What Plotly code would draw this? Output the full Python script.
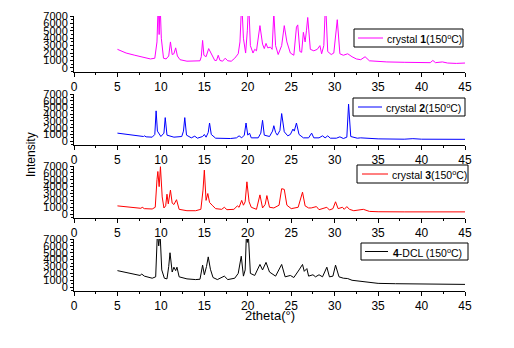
import plotly.graph_objects as go

# ---- data (2theta, intensity) ----
crystal1 = [(5,2500),(6,2000),(7,1700),(8,1400),(8.8,1200),(9.3,1300),(9.55,3500),(9.7,9000),(9.8,4500),(9.9,9000),
            (10.05,4000),(10.3,1300),(10.6,1200),(10.9,1600),(11.1,3500),(11.3,1800),(11.5,1900),(11.7,2700),(11.9,1600),
            (12.2,1100),(13,900),(14,900),(14.5,950),(14.65,1500),(14.8,3700),(14.95,1700),(15.2,1500),(15.5,2600),
            (15.8,1900),(16.2,1000),(16.4,1000),(16.6,1700),(16.8,1000),(17.1,900),(17.4,1300),(17.7,950),(18.1,900),
            (18.5,1300),(18.9,1900),(19.1,3500),(19.3,9000),(19.5,4000),(19.75,2000),(19.95,5000),(20.1,9000),(20.3,3000),
            (20.6,2000),(20.8,2500),(21.0,2300),(21.4,5700),(21.7,3200),(21.9,2600),(22.1,3300),(22.3,2700),(22.6,2800),
            (22.8,2500),(23.0,7500),(23.2,3000),(23.5,1800),(23.9,3000),(24.2,5700),(24.5,3500),(24.9,2000),(25.3,1700),
            (25.6,5500),(25.75,5800),(26.0,2200),(26.2,2100),(26.4,4800),(26.6,3500),(26.75,5000),(26.9,6800),(27.2,2500),
            (27.6,2300),(28.0,2500),(28.3,3000),(28.5,1900),(28.75,3000),(28.95,9000),(29.2,2200),(29.6,1800),(29.9,2000),
            (30.3,6500),(30.6,1900),(31.0,1700),(31.5,1900),(32.0,1500),(32.5,1200),(33.0,1100),(33.5,1500),(34.0,950),
            (35,850),(36,800),(38,750),(40,650),(41,700),(41.3,1000),(41.6,700),(42.4,800),(43,650),(44,600),(45,650)]

crystal2 = [(5,1200),(6,1000),(7,850),(8,700),(8.1,800),(8.3,650),(9.0,600),(9.3,1000),(9.45,4500),(9.6,1500),
            (10.0,700),(10.35,1200),(10.5,3500),(10.7,900),(11.5,600),(12.4,700),(12.6,1500),(12.75,3500),(12.95,900),
            (13.5,500),(13.9,750),(14.2,450),(14.8,700),(15.0,1000),(15.2,600),(15.45,1300),(15.6,2700),(15.8,1000),
            (16.3,450),(17,400),(18,400),(18.7,500),(19.0,800),(19.3,500),(19.6,900),(19.8,2700),(20.0,900),(20.2,1200),
            (20.4,500),(21.2,500),(21.5,1200),(21.7,3100),(21.9,900),(22.5,700),(22.85,1500),(23.0,2300),(23.2,1300),
            (23.4,900),(23.7,1600),(23.9,4100),(24.2,1400),(24.6,800),(24.9,1000),(25.2,1800),(25.35,1500),(25.6,2700),
            (25.9,1000),(26.4,500),(27.0,500),(27.35,1200),(27.6,500),(28.2,500),(28.6,800),(28.9,500),(29.2,800),
            (29.5,450),(30.2,450),(30.6,650),(31.0,400),(31.4,600),(31.6,5500),(31.85,700),(32.2,600),(32.6,450),
            (33.0,500),(34,400),(35,350),(38,300),(39,380),(40,300),(42,280),(45,280)]

crystal3 = [(5,1200),(6,1050),(7,900),(7.7,850),(7.85,1000),(8.1,800),(9,750),(9.35,1000),(9.55,5000),(9.65,6200),
            (9.8,4000),(9.95,6900),(10.15,2500),(10.35,900),(10.55,1200),(10.7,2900),(10.85,1500),(11.1,3500),(11.3,1600),
            (11.5,1400),(11.8,2100),(12.1,700),(13,500),(14,500),(14.6,700),(14.85,3500),(15.0,6400),(15.2,2000),
            (15.4,3000),(15.6,1700),(15.9,1300),(16.3,800),(17.0,700),(17.3,1000),(17.6,650),(18.4,700),(18.8,1200),
            (19.0,1000),(19.3,2000),(19.5,1300),(19.7,1800),(19.9,4700),(20.15,1800),(20.4,1000),(21.0,700),(21.4,2800),
            (21.7,900),(22.0,1400),(22.2,2700),(22.5,1000),(23.0,900),(23.6,1300),(23.9,3700),(24.2,3600),(24.5,1300),
            (25.0,800),(25.8,1000),(26.3,3200),(26.6,1200),(27.0,900),(27.3,900),(27.9,1100),(28.2,650),(28.6,800),
            (29.1,1000),(29.4,600),(29.8,800),(30.1,1800),(30.4,800),(30.9,1000),(31.1,700),(31.4,1100),(31.7,700),
            (32.2,500),(33.3,700),(34.0,400),(35,350),(38,330),(42,320),(45,330)]

dcl4 = [(5,2400),(6,2100),(7,1800),(7.6,1700),(7.8,1900),(8.1,1600),(9.0,1300),(9.4,1500),(9.6,8000),(9.75,6000),
        (9.9,8000),(10.1,2500),(10.4,1300),(10.7,1200),(10.9,3000),(11.05,5000),(11.3,2200),(11.5,2900),(11.7,2400),
        (11.85,2900),(12.1,1500),(13,1200),(14,1100),(14.5,1150),(14.8,3200),(15.0,1800),(15.25,3000),(15.45,4400),
        (15.7,2600),(16.0,1400),(16.5,1100),(17.3,1600),(17.7,1100),(18.5,1300),(18.9,2000),(19.25,4500),(19.5,1600),
        (19.7,2500),(19.85,8000),(19.95,6500),(20.05,8000),(20.3,2000),(20.8,1700),(21.4,3300),(21.7,2500),(22.1,3600),
        (22.5,2200),(23.2,1600),(23.9,3300),(24.3,1500),(24.9,1700),(25.3,1400),(25.9,2500),(26.3,3300),(26.5,2300),
        (26.8,2700),(27.0,1600),(27.5,1800),(27.8,1500),(28.2,1800),(28.6,1500),(29.1,2900),(29.4,1500),(29.8,1600),
        (30.1,3200),(30.5,1500),(31.0,1300),(31.5,1250),(32,1000),(33,850),(34,700),(35,550),(37,500),(40,450),
        (42,420),(45,400)]

series_names = ["crystal <b>1</b>(150<sup>o</sup>C)", "crystal <b>2</b>(150<sup>o</sup>C)",
                "crystal <b>3</b>(150<sup>o</sup>C)", "<b>4</b>-DCL (150<sup>o</sup>C)"]
series_data = [crystal1, crystal2, crystal3, dcl4]
series_colors = ["#ff00ff", "#0000ff", "#ff0000", "#000000"]

x_ticks = [0, 5, 10, 15, 20, 25, 30, 35, 40, 45]
y_ticks = [0, 1000, 2000, 3000, 4000, 5000, 6000, 7000]

W, H = 514, 348
FONT = "Liberation Sans, Arial, sans-serif"

# panel geometry in pixels: (top, axis line)
panels = [(16, 72), (94, 145), (166, 218), (239, 291)]
# legend boxes in pixels: (left, top, right, bottom, line_start, line_end, text_start)
legend_boxes = [(354, 29, 463, 47, 358, 383, 385),
                (353, 98, 465, 116, 358, 382, 384),
                (357, 165, 468, 183, 362, 388, 390),
                (361, 243, 468, 260, 365, 388, 391)]
x0, x1 = 74, 465

fig = go.Figure()
layout = dict(width=W, height=H, margin=dict(l=0, r=0, t=0, b=0, autoexpand=False),
              paper_bgcolor="white", plot_bgcolor="white", showlegend=False,
              font=dict(family=FONT, size=12, color="black"))

shapes = []
annotations = []
for i, (name, data, color) in enumerate(zip(series_names, series_data, series_colors)):
    sfx = "" if i == 0 else str(i + 1)
    xs = [p[0] for p in data]
    ys = [p[1] for p in data]
    fig.add_trace(go.Scatter(x=xs, y=ys, mode="lines", name=name,
                             line=dict(color=color, width=1),
                             xaxis="x" + sfx, yaxis="y" + sfx))
    top, ax = panels[i]
    layout["xaxis" + sfx] = dict(domain=[x0 / W, x1 / W], range=[0, 45], anchor="y" + sfx,
                                  automargin=False,
                                  tickvals=x_ticks, ticks="outside", ticklen=4, tickwidth=1,
                                  tickcolor="black", showline=True, linecolor="black", linewidth=1,
                                  showgrid=False, zeroline=False,
                                  tickfont=dict(size=12, family=FONT, color="black"),
                                  minor=dict(dtick=2.5, ticks="outside", ticklen=2, tickcolor="black"))
    layout["yaxis" + sfx] = dict(domain=[1 - ax / H, 1 - top / H], range=[-560, 7000], anchor="x" + sfx,
                                  automargin=False,
                                  tickvals=y_ticks, ticks="outside", ticklen=3, tickwidth=1,
                                  tickcolor="black", showline=True, linecolor="black", linewidth=1,
                                  showgrid=False, zeroline=False,
                                  tickfont=dict(size=11, family=FONT, color="black"),
                                  minor=dict(dtick=500, ticks="outside", ticklen=2, tickcolor="black"))
    l, t, r, b, ls, le, ts = legend_boxes[i]
    ym = (t + b) / 2
    shapes.append(dict(type="rect", xref="paper", yref="paper", x0=l / W, x1=r / W,
                       y0=1 - b / H, y1=1 - t / H, line=dict(color="black", width=1),
                       fillcolor="white", layer="above"))
    shapes.append(dict(type="line", xref="paper", yref="paper", x0=ls / W, x1=le / W,
                       y0=1 - ym / H, y1=1 - ym / H, line=dict(color=color, width=1), layer="above"))
    annotations.append(dict(text=name, x=ts / W, y=1 - (ym + 0.5) / H, xref="paper", yref="paper",
                            xanchor="left", yanchor="middle", showarrow=False,
                            font=dict(size=10.5, family=FONT, color="black")))

annotations += [
    dict(text="Intensity", x=22 / W, y=1 - 155 / H, xref="paper", yref="paper",
         textangle=-90, showarrow=False, font=dict(size=12, family=FONT)),
    dict(text="2theta(°)", x=270 / W, y=1 - 325 / H, xref="paper", yref="paper",
         showarrow=False, font=dict(size=13, family=FONT)),
]
layout["shapes"] = shapes
layout["annotations"] = annotations

fig.update_layout(**layout)
fig.write_html("out.html", config={"displayModeBar": False},
               post_script="document.body.style.margin='0';document.body.style.overflow='hidden';")
